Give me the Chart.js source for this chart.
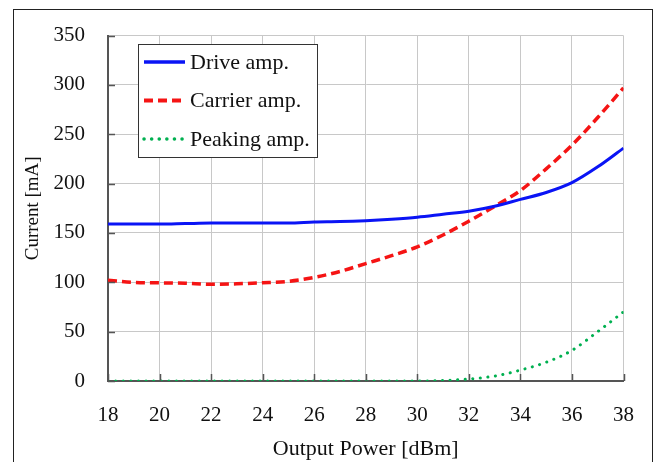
<!DOCTYPE html>
<html>
<head>
<meta charset="utf-8">
<script src="https://cdn.jsdelivr.net/npm/chart.js@4"></script>
<style>
  html, body { margin: 0; padding: 0; background: #fff; }
  #wrap { position: relative; width: 656px; height: 462px; }
  #frame { position: absolute; left: 13px; top: 9px; width: 640px; height: 470px; border: 1px solid #222; box-sizing: border-box; }
  canvas { position: absolute; left: 0; top: 0; }
</style>
</head>
<body>
<div id="wrap">
  <div id="frame"></div>
  <canvas id="grafico" width="656" height="462"></canvas>
</div>
<script>
// datos
var potencia = [18, 19, 20, 21, 22, 23, 24, 25, 26, 27, 28, 29, 30, 31, 32, 33, 34, 35, 36, 37, 38];
var driveAmp = [159, 159, 159, 159.5, 160, 160, 160, 160, 161, 161.5, 162.5, 164, 166, 169, 172, 177, 184, 191, 201, 217, 236];
var carrierAmp = [102, 100, 99.5, 99, 98, 98.5, 99.5, 101, 105, 111, 119, 127, 136, 148, 162, 177, 193, 215, 239, 267, 297];
var peakingAmp = [0, 0, 0, 0, 0, 0, 0, 0, 0, 0, 0, 0, 0, 0.5, 2, 5, 11, 19, 31, 50, 70];
var nombres = ['Drive amp.', 'Carrier amp.', 'Peaking amp.'];
var xTicks = [18, 20, 22, 24, 26, 28, 30, 32, 34, 36, 38];
var yTicks = [0, 50, 100, 150, 200, 250, 300, 350];

function puntos(valores) {
    return potencia.map(function (p, i) { return { x: p, y: valores[i] }; });
}

var fuente = "'Liberation Serif', 'Times New Roman', serif";

// marcas de eje hacia adentro
var marcasInternas = {
    id: 'marcasInternas',
    afterDraw: function (chart) {
        var ctx = chart.ctx, xs = chart.scales.x, ys = chart.scales.y;
        var area = chart.chartArea;
        ctx.save();
        ctx.strokeStyle = '#555';
        ctx.lineWidth = 1.5;
        ctx.beginPath();
        xTicks.forEach(function (t) {
            var px = Math.round(xs.getPixelForValue(t)) + 0.5;
            ctx.moveTo(px, area.bottom);
            ctx.lineTo(px, area.bottom - 7);
        });
        yTicks.forEach(function (t) {
            var py = Math.round(ys.getPixelForValue(t)) + 0.5;
            ctx.moveTo(area.left, py);
            ctx.lineTo(area.left + 7, py);
        });
        ctx.stroke();
        ctx.restore();
    }
};

// leyenda dentro del area del grafico
var leyendaInterna = {
    id: 'leyendaInterna',
    afterDraw: function (chart) {
        var ctx = chart.ctx;
        var x0 = 138, y0 = 44, w = 179, h = 113;
        ctx.save();
        ctx.fillStyle = '#fff';
        ctx.fillRect(x0, y0, w, h);
        ctx.strokeStyle = '#333';
        ctx.lineWidth = 1;
        ctx.strokeRect(x0 + 0.5, y0 + 0.5, w, h);
        ctx.font = '22px ' + fuente;
        ctx.textBaseline = 'middle';
        chart.data.datasets.forEach(function (ds, i) {
            var yy = 62 + i * 38.5;
            ctx.beginPath();
            ctx.strokeStyle = ds.borderColor;
            ctx.lineWidth = ds.borderWidth + 0.5;
            ctx.lineCap = ds.borderCapStyle || 'butt';
            ctx.setLineDash(ds.borderDash || []);
            ctx.moveTo(144, yy);
            ctx.lineTo(185, yy);
            ctx.stroke();
            ctx.setLineDash([]);
            ctx.fillStyle = '#111';
            ctx.fillText(nombres[i], 190, yy + 1);
        });
        ctx.restore();
    }
};

var ctx = document.getElementById('grafico').getContext('2d');
var miGrafico = new Chart(ctx, {
    type: 'line',
    data: {
        datasets: [{
            label: nombres[0],
            data: puntos(driveAmp),
            borderColor: '#0a14f5',
            borderWidth: 3,
            pointRadius: 0,
            cubicInterpolationMode: 'monotone'
        }, {
            label: nombres[1],
            data: puntos(carrierAmp),
            borderColor: '#f51414',
            borderWidth: 3.5,
            borderDash: [9, 5],
            pointRadius: 0,
            cubicInterpolationMode: 'monotone'
        }, {
            label: nombres[2],
            data: puntos(peakingAmp),
            borderColor: '#00b050',
            borderWidth: 3,
            borderDash: [0.1, 7.5],
            borderCapStyle: 'round',
            pointRadius: 0,
            cubicInterpolationMode: 'monotone'
        }]
    },
    options: {
        responsive: false,
        animation: false,
        layout: { padding: { left: 22, right: 31, top: 27, bottom: 0 } },
        plugins: {
            legend: { display: false },
            tooltip: { enabled: false }
        },
        scales: {
            x: {
                type: 'linear',
                min: 18,
                max: 38,
                afterBuildTicks: function (s) { s.ticks = xTicks.map(function (v) { return { value: v }; }); },
                afterFit: function (s) { s.height = 81; },
                grid: { color: '#c8c8c8', lineWidth: 1, drawTicks: false },
                border: { color: '#555', width: 2 },
                ticks: { padding: 22, color: '#111', font: { family: fuente, size: 21 } },
                title: {
                    display: true,
                    text: 'Output Power [dBm]',
                    color: '#111',
                    font: { family: fuente, size: 22 },
                    padding: { top: 1, bottom: 0 }
                }
            },
            y: {
                min: 0,
                max: 350,
                afterBuildTicks: function (s) { s.ticks = yTicks.map(function (v) { return { value: v }; }); },
                afterFit: function (s) { s.width = 86; },
                grid: { color: '#c8c8c8', lineWidth: 1, drawTicks: false },
                border: { color: '#555', width: 2 },
                ticks: { padding: 23, color: '#111', font: { family: fuente, size: 21 } },
                title: {
                    display: true,
                    text: 'Current [mA]',
                    color: '#111',
                    font: { family: fuente, size: 19 },
                    padding: { top: 0, bottom: 0 }
                }
            }
        }
    },
    plugins: [marcasInternas, leyendaInterna]
});
</script>
</body>
</html>
